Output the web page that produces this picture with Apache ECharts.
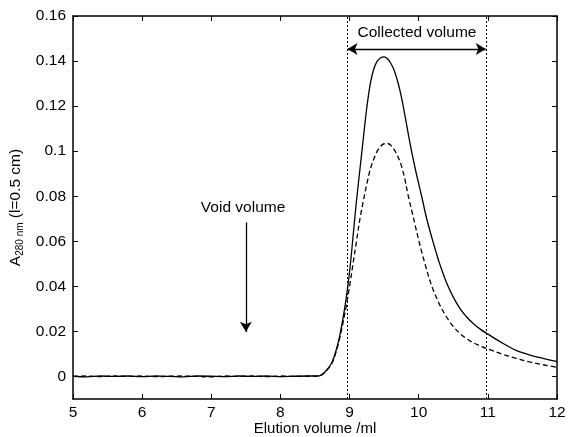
<!DOCTYPE html>
<html>
<head>
<meta charset="utf-8">
<script src="https://cdn.jsdelivr.net/npm/echarts@6/dist/echarts.min.js"></script>
<style>html,body{margin:0;padding:0;background:#fff}#c{width:569px;height:437px}</style>
</head>
<body>
<div id="c"></div>
<script>
// Elution volume (ml)
const volume = [5.0,5.2,5.4,5.6,5.8,6.0,6.2,6.4,6.6,6.8,7.0,7.2,7.4,7.6,7.8,8.0,8.2,8.4,8.55,
  8.6,8.65,8.7,8.75,8.8,8.85,8.9,8.95,9.0,9.05,9.1,9.15,9.2,9.25,9.3,9.35,9.4,9.45,9.5,9.55,
  9.6,9.65,9.7,9.75,9.8,9.85,9.9,9.95,10.0,10.05,10.1,10.15,10.2,10.25,10.3,10.4,10.5,10.6,
  10.7,10.8,10.9,11.0,11.2,11.4,11.6,11.8,12.0];
// Solid trace (A280)
const solidA280 = [0.0001,-0.0002,0.0002,0.0000,0.0002,-0.0001,0.0002,0.0000,-0.0002,0.0002,0.0001,-0.0001,0.0002,0.0000,0.0002,-0.0001,0.0001,0.0002,0.0002,
  0.0008,0.0022,0.0040,0.0065,0.0110,0.0170,0.0250,0.0345,0.0465,0.0620,0.0780,0.0920,0.1060,0.1195,0.1300,0.1365,0.1400,0.1415,0.1419,0.1410,
  0.1388,0.1355,0.1305,0.1240,0.1160,0.1075,0.0995,0.0922,0.0855,0.0790,0.0720,0.0660,0.0605,0.0553,0.0503,0.0418,0.0352,0.0300,
  0.0262,0.0232,0.0208,0.0188,0.0150,0.0117,0.0096,0.0080,0.0066];
// Dashed trace (A280)
const dashedA280 = [0.0000,0.0002,-0.0001,0.0002,0.0000,0.0002,-0.0001,0.0001,0.0002,0.0000,-0.0002,0.0002,0.0000,0.0002,-0.0001,0.0002,0.0000,0.0001,0.0002,
  0.0008,0.0020,0.0038,0.0062,0.0105,0.0160,0.0230,0.0310,0.0400,0.0500,0.0600,0.0700,0.0780,0.0856,0.0920,0.0965,0.1000,0.1022,0.1033,0.1034,
  0.1025,0.1005,0.0975,0.0935,0.0875,0.0800,0.0735,0.0670,0.0605,0.0545,0.0490,0.0437,0.0392,0.0355,0.0320,0.0265,0.0222,0.0190,
  0.0166,0.0148,0.0134,0.0122,0.0100,0.0081,0.0065,0.0052,0.0041];
const xTicks = [5,6,7,8,9,10,11,12];
const yTicks = [0,0.02,0.04,0.06,0.08,0.1,0.12,0.14,0.16];
const collectedStart = 8.97, collectedEnd = 10.97, collectedArrowY = 0.1453;
const voidX = 7.5, voidArrowTop = 0.0684, voidArrowTip = 0.0198;
const collectedLabel = [9.975, 0.1524];
const voidLabel = [7.46, 0.0747];

const solidData = volume.map((v,i)=>[v, solidA280[i]]);
const dashedData = volume.map((v,i)=>[v, dashedA280[i]]);

const font = 'Liberation Sans, Arial, Helvetica, sans-serif';
const chart = echarts.init(document.getElementById('c'), null, {renderer:'canvas'});
const axLine = {show:true, onZero:false, lineStyle:{color:'#000', width:1.5}};
const xBase = {type:'value', min:5, max:12, interval:1, splitLine:{show:false}, axisLine:axLine,
  axisTick:{inside:true, length:5, lineStyle:{color:'#000', width:1}, customValues:xTicks}};
const yBase = {type:'value', min:-0.01, max:0.16, splitLine:{show:false}, axisLine:axLine,
  axisTick:{inside:true, length:5, lineStyle:{color:'#000', width:1}, customValues:yTicks}};

chart.setOption({
  animation:false,
  backgroundColor:'#fff',
  grid:{left:73, right:12, top:16, bottom:38, containLabel:false, outerBoundsMode:'none'},
  xAxis:[
    Object.assign({}, xBase, {position:'bottom',
      axisLabel:{color:'#000', fontSize:15.5, fontFamily:font, margin:6, customValues:xTicks},
      name:'Elution volume /ml', nameLocation:'middle', nameGap:30, nameMoveOverlap:false,
      nameTextStyle:{color:'#000', fontSize:15, fontFamily:font, verticalAlign:'middle'}}),
    Object.assign({}, xBase, {position:'top', axisLabel:{show:false}})
  ],
  yAxis:[
    Object.assign({}, yBase, {position:'left',
      axisLabel:{color:'#000', fontSize:15.5, fontFamily:font, margin:7, customValues:yTicks,
        formatter:v=>String(+v.toFixed(2))},
      name:'{a|A}{s|280 nm}{a| (l=0.5 cm)}', nameLocation:'middle', nameGap:48, nameRotate:90,
      nameMoveOverlap:false,
      nameTextStyle:{color:'#000', fontFamily:font, rich:{
        a:{fontSize:15.5, color:'#000', fontFamily:font},
        s:{fontSize:10, color:'#000', fontFamily:font, verticalAlign:'bottom', padding:[8,0,0,0]}
      }}}),
    Object.assign({}, yBase, {position:'right', axisLabel:{show:false}})
  ],
  series:[
    {type:'line', data:solidData, showSymbol:false, symbol:'none', smooth:0.35,
      lineStyle:{color:'#000', width:1.3}, z:3,
      markLine:{silent:true, symbol:['none','none'], label:{show:false},
        lineStyle:{color:'#000', type:[2,2], width:1},
        data:[{xAxis:collectedStart},{xAxis:collectedEnd}]},
      markPoint:{silent:true, symbol:'circle', symbolSize:0,
        label:{show:true, position:'inside', color:'#000', fontSize:15.5, fontFamily:font},
        data:[
          {coord:collectedLabel, label:{formatter:'Collected volume'}},
          {coord:voidLabel, label:{formatter:'Void volume'}}
        ]}
    },
    {type:'line', data:dashedData, showSymbol:false, symbol:'none', smooth:0.35,
      lineStyle:{color:'#000', width:1.3, type:[5,3]}, z:3,
      markLine:{silent:true, label:{show:false}, symbolSize:[9,10],
        lineStyle:{color:'#000', type:'solid', width:1.3},
        data:[
          [{coord:[collectedStart, collectedArrowY], symbol:'arrow'},{coord:[collectedEnd, collectedArrowY], symbol:'arrow'}],
          [{coord:[voidX, voidArrowTop], symbol:'none'},{coord:[voidX, voidArrowTip], symbol:'arrow'}]
        ]}
    }
  ]
});
</script>
</body>
</html>
